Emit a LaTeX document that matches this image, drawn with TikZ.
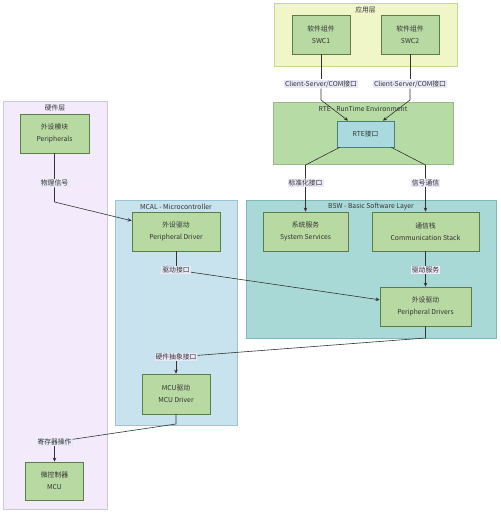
\documentclass[tikz,border=0pt]{standalone}
\usepackage{fontspec}
\setmainfont{Noto Sans CJK SC}
\usetikzlibrary{arrows.meta}
\definecolor{txt}{HTML}{333333}
\definecolor{appfill}{HTML}{F1F6C8}
\definecolor{appdraw}{HTML}{C8D890}
\definecolor{rtefill}{HTML}{B7DBA5}
\definecolor{rtedraw}{HTML}{98BC88}
\definecolor{bswfill}{HTML}{A8D9D7}
\definecolor{bswdraw}{HTML}{80B8B6}
\definecolor{mcalfill}{HTML}{C8E2EE}
\definecolor{mcaldraw}{HTML}{98C4D8}
\definecolor{hwfill}{HTML}{F3EBFC}
\definecolor{hwdraw}{HTML}{CFC8D8}
\definecolor{boxfill}{HTML}{B8D9A2}
\definecolor{boxdraw}{HTML}{5A7D4C}
\definecolor{ifill}{HTML}{AADADE}
\definecolor{idraw}{HTML}{4A7F80}
\definecolor{lblfill}{HTML}{E9E8F7}
\begin{document}
\begin{tikzpicture}[x=1pt,y=-1pt,
  every node/.style={text=txt, font=\fontsize{6.8}{12}\selectfont},
  grp/.style={draw=#1draw, fill=#1fill, line width=0.6pt, inner sep=0pt},
  grptitle/.style={inner sep=0pt},
  cbox/.style={draw=boxdraw, fill=boxfill, line width=0.7pt, align=center, inner sep=0pt},
  ibox/.style={draw=idraw, fill=ifill, line width=0.7pt, align=center, inner sep=0pt},
  elabel/.style={fill=lblfill, inner sep=1pt},
  conn/.style={draw=txt, line width=0.6pt},
  arr/.style={conn, -{Stealth[length=4pt,width=3.6pt]}}
]
\useasboundingbox (0,0) rectangle (500,516);
\fill[white] (0,0) rectangle (500,516);

% groups
\node[grp=app, minimum width=183pt, minimum height=63pt] (app) at (365.5,34.5) {};
\node[grptitle] (appT) at (365.5,10) {应用层};
\node[grp=rte, minimum width=180pt, minimum height=62pt] (rteG) at (363,133) {};
\node[grptitle] (rteT) at (363,109) {RTE - RunTime Environment};
\node[grp=bsw, minimum width=250pt, minimum height=138pt] (bswG) at (371,269) {};
\node[grptitle] (bswT) at (371,207) {BSW - Basic Software Layer};
\node[grp=mcal, minimum width=122pt, minimum height=225pt] (mcalG) at (176,312.5) {};
\node[grptitle] (mcalT) at (176,207) {MCAL - Microcontroller};
\node[grp=hw, minimum width=104pt, minimum height=408pt] (hwG) at (55,305) {};
\node[grptitle] (hwT) at (55,108) {硬件层};

% boxes
\node[cbox, minimum width=58pt, minimum height=39pt] (swc1) at (321,34.5) {软件组件\\SWC1};
\node[cbox, minimum width=58pt, minimum height=39pt] (swc2) at (410,34.5) {软件组件\\SWC2};
\node[ibox, minimum width=57pt, minimum height=26pt] (rte) at (365.5,134) {RTE接口};
\node[cbox, minimum width=85pt, minimum height=39pt] (sys) at (305.5,231.5) {系统服务\\System Services};
\node[cbox, minimum width=107pt, minimum height=39pt] (com) at (425.5,231.5) {通信栈\\Communication Stack};
\node[cbox, minimum width=91pt, minimum height=39pt] (pds) at (425.5,306.5) {外设驱动\\Peripheral Drivers};
\node[cbox, minimum width=88pt, minimum height=39pt] (pd) at (176,231.5) {外设驱动\\Peripheral Driver};
\node[cbox, minimum width=68pt, minimum height=40pt] (mcud) at (176,394) {MCU驱动\\MCU Driver};
\node[cbox, minimum width=69pt, minimum height=39pt] (periph) at (54.5,133.5) {外设模块\\Peripherals};
\node[cbox, minimum width=58pt, minimum height=38pt] (mcu) at (54.5,481) {微控制器\\MCU};

% edge labels
\node[elabel] (l1) at (321,84) {Client-Server/COM接口};
\node[elabel] (l2) at (410,84) {Client-Server/COM接口};
\node[elabel] (l3) at (305.5,183) {标准化接口};
\node[elabel] (l4) at (425.5,183) {信号通信};
\node[elabel] (l5) at (54.5,183) {物理信号};
\node[elabel] (l6) at (176,270) {驱动接口};
\node[elabel] (l7) at (425.5,270) {驱动服务};
\node[elabel] (l8) at (176,357) {硬件抽象接口};
\node[elabel] (l9) at (54.5,442) {寄存器操作};

% bend points
\coordinate (b1) at (321,100);
\coordinate (b2) at (410,100);
\coordinate (b3) at (305.5,165);
\coordinate (b4) at (425.5,165);
\coordinate (b5) at (54.5,202);
\coordinate (b8) at (425.5,338);
\coordinate (b9) at (176,424);

% connectors
\draw[conn] (swc1) -- (l1);
\draw[arr] (l1) -- (b1) -- (rte);
\draw[conn] (swc2) -- (l2);
\draw[arr] (l2) -- (b2) -- (rte);
\draw[conn] (rte) -- (b3) -- (l3);
\draw[arr] (l3) -- (sys);
\draw[conn] (rte) -- (b4) -- (l4);
\draw[arr] (l4) -- (com);
\draw[conn] (com) -- (l7);
\draw[arr] (l7) -- (pds);
\draw[conn] (periph) -- (l5);
\draw[arr] (l5) -- (b5) -- (pd);
\draw[conn] (pd) -- (l6);
\draw[arr] (l6) -- (pds);
\draw[conn] (pds) -- (b8) -- (l8);
\draw[arr] (l8) -- (mcud);
\draw[conn] (mcud) -- (b9) -- (l9);
\draw[arr] (l9) -- (mcu);
\end{tikzpicture}
\end{document}
